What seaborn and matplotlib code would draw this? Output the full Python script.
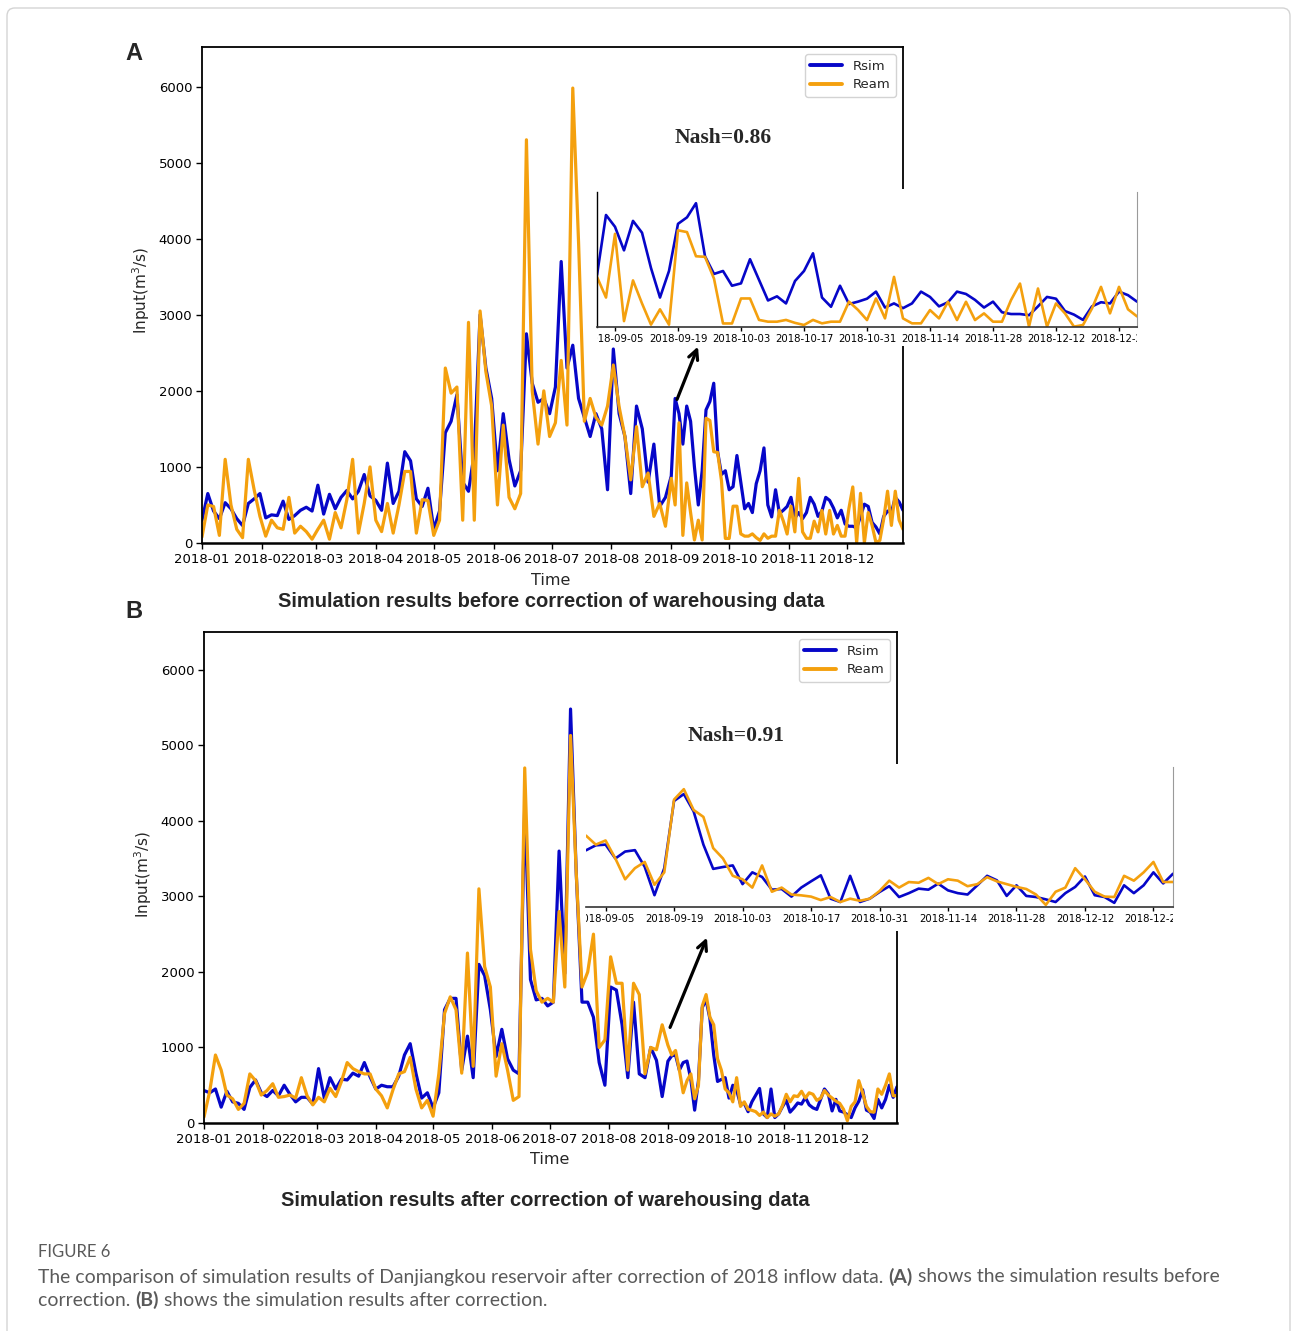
import numpy as np
import pandas as pd
import matplotlib
matplotlib.use("Agg")
import matplotlib.pyplot as plt
import matplotlib.dates as mdates
from matplotlib.patches import Rectangle, FancyBboxPatch, FancyArrowPatch
from matplotlib.lines import Line2D
from matplotlib.transforms import Bbox, TransformedBbox
import seaborn as sns

# ---------------- data ----------------
# Jan-Aug sampled every 3 days, Sep-Dec every 2 days
dates_early = pd.date_range("2018-01-01", "2018-08-29", freq="3D")
dates_late = pd.date_range("2018-09-01", "2018-12-30", freq="2D")
inset_ticks = pd.date_range("2018-09-05", periods=9, freq="14D")
series_names = ["Rsim", "Ream"]

# Panel A: before correction
a_rsim_early = [300, 650, 420, 320, 530, 450, 320, 230, 520, 580,
                650, 330, 370, 360, 550, 310, 360, 430, 470, 420,
                760, 380, 640, 450, 600, 690, 580, 680, 900, 620,
                560, 430, 1050, 520, 680, 1200, 1080, 580, 480, 720,
                180, 420,
                1450, 1600, 1950, 800, 680, 1180, 3000, 2300, 1900, 950,
                1700, 1100, 750, 950, 2750, 2100, 1850, 1900, 1700, 2050,
                3700, 2300, 2600, 1900, 1650, 1400, 1700, 1500, 700, 2550,
                1700, 1400, 650, 1800, 1500, 800, 1300, 480, 600]
a_ream_early = [80, 500, 480, 100, 1100, 500, 180, 70, 1100, 700,
                350, 90, 300, 200, 180, 600, 130, 220, 150, 50,
                180, 300, 50, 400, 200, 570, 1100, 130, 520, 1000,
                300, 150, 520, 130, 500, 940, 940, 130, 570, 560,
                100, 300,
                2300, 1970, 2050, 300, 2900, 300, 3050, 2250, 1800, 500,
                1550, 600, 450, 650, 5300, 2000, 1300, 2000, 1400, 1580,
                2400, 1550, 5980, 3950, 1600, 1900, 1650, 1550, 1800, 2340,
                1790, 1400, 830, 1530, 740, 920, 350, 520, 220]
a_rsim_late = [880, 1900, 1700, 1300, 1800, 1600, 1000, 500, 950, 1750,
               1860, 2100, 1200, 900, 950, 700, 740, 1150, 800, 450,
               520, 400, 780, 950, 1250, 500, 343, 700, 390, 430,
               480, 600, 330, 400, 320, 400, 600, 510, 350, 420,
               600, 560, 460, 330, 430, 250, 220, 220, 200, 350,
               510, 480, 270, 210, 120, 350, 420, 400, 600, 540,
               430]
a_ream_late = [850, 500, 1580, 100, 790, 400, 40, 300, 40, 1640,
               1610, 1200, 1190, 820, 60, 60, 484, 484, 120, 90,
               90, 120, 70, 34, 120, 62, 90, 90, 430, 290,
               118, 484, 146, 850, 146, 62, 62, 287, 146, 428,
               118, 428, 118, 231, 90, 90, 456, 737, 6, 653,
               6, 400, 231, 6, 34, 315, 681, 231, 681, 300,
               180]

# Panel B: after correction
b_rsim_early = [430, 400, 450, 210, 420, 280, 260, 180, 470, 570,
                400, 350, 430, 360, 500, 380, 280, 340, 340, 250,
                720, 330, 600, 450, 580, 570, 660, 620, 800, 610,
                450, 500, 480, 480, 620, 900, 1050, 660, 330, 400,
                200, 400,
                1500, 1650, 1650, 700, 1150, 600, 2100, 1950, 1500, 880,
                1240, 850, 700, 650, 4200, 1900, 1630, 1650, 1550, 1600,
                3600, 1980, 5480, 3300, 1600, 1600, 1400, 800, 500, 1800,
                1760, 1300, 600, 1600, 650, 600, 1000, 830, 350]
b_ream_early = [80, 420, 900, 700, 370, 320, 180, 260, 650, 560,
                370, 430, 520, 340, 350, 370, 330, 600, 360, 240,
                340, 280, 460, 350, 550, 800, 720, 680, 650, 650,
                450, 360, 200, 440, 650, 680, 870, 450, 200, 300,
                90, 650,
                1450, 1670, 1500, 660, 2250, 750, 3100, 2070, 1800, 620,
                1050, 700, 300, 350, 4700, 2300, 1750, 1600, 1650, 1600,
                2800, 1800, 5130, 3300, 1800, 2000, 2500, 1000, 1100, 2200,
                1850, 1850, 700, 1850, 1700, 650, 1000, 970, 1300]
b_rsim_late = [818, 890, 900, 700, 800, 820, 580, 170, 560, 1530,
               1630, 1380, 900, 550, 577, 600, 330, 500, 433, 250,
               260, 150, 280, 370, 457, 120, 72, 450, 72, 120,
               216, 300, 144, 200, 265, 250, 337, 240, 200, 180,
               313, 450, 385, 160, 313, 160, 144, 110, 72, 200,
               289, 440, 170, 144, 60, 313, 200, 313, 500, 340,
               480]
b_ream_late = [1030, 900, 960, 700, 400, 560, 650, 320, 500, 1550,
               1700, 1400, 1300, 850, 700, 450, 400, 280, 600, 220,
               280, 180, 168, 150, 100, 144, 72, 120, 90, 120,
               230, 380, 280, 360, 350, 420, 330, 400, 380, 300,
               330, 430, 370, 330, 290, 260, 180, 30, 220, 280,
               560, 400, 220, 150, 144, 450, 380, 500, 650, 361,
               361]

y_ticks = [0, 1000, 2000, 3000, 4000, 5000, 6000]
nash_labels = ["Nash=0.86", "Nash=0.91"]
panel_letters = ["A", "B"]
titles = ["Simulation results before correction of warehousing data",
          "Simulation results after correction of warehousing data"]
caption_head = "FIGURE 6"

# ---------------- style ----------------
sns.set_theme(style="ticks")
plt.rcParams["font.family"] = ["DejaVu Sans"]
plt.rcParams["axes.edgecolor"] = "black"

BLUE = "#0606C8"
ORANGE = "#F4A00E"
palette = {"Rsim": BLUE, "Ream": ORANGE}

W, H = 1292, 1331
fig = plt.figure(figsize=(W / 100, H / 100), dpi=100)
fig.patch.set_facecolor("white")


def rect(l, t, r, b):
    return [l / W, 1 - b / H, (r - l) / W, (b - t) / H]


def fpt(x, y):
    return (x / W, 1 - y / H)


# outer light border
fig.patches.append(FancyBboxPatch((7 / W, -0.02), 1283 / W, 1 - 8 / H + 0.02,
                                  boxstyle="round,pad=0,rounding_size=0.006",
                                  transform=fig.transFigure, facecolor="none",
                                  edgecolor="#d4d4d4", lw=1.0, zorder=0))

panels = [
    dict(main=(202, 47, 903, 543), ins=(597, 192, 1137, 327), ylim=6520, iylim=2290,
         rsim_e=a_rsim_early, ream_e=a_ream_early, rsim_l=a_rsim_late, ream_l=a_ream_late,
         cover=(594, 189, 1140, 346), ins_left=True,
         nash=(723, 138), arrow=((676, 402), (699, 344)),
         letter=(134, 53), ylab=(141, 290), time=(551, 580), title=(551, 601), title_w=545),
    dict(main=(204, 632, 897, 1123), ins=(586, 767, 1173, 907), ylim=6500, iylim=2020,
         rsim_e=b_rsim_early, ream_e=b_ream_early, rsim_l=b_rsim_late, ream_l=b_ream_late,
         cover=(584, 764, 1176, 931), ins_left=False,
         nash=(736, 736), arrow=((669, 1030), (708, 935)),
         letter=(134, 611), ylab=(143, 874), time=(550, 1159), title=(545, 1200), title_w=527),
]

dates_all = dates_early.append(dates_late)
renderer = fig.canvas.get_renderer()

for i, p in enumerate(panels):
    rsim = list(p["rsim_e"]) + list(p["rsim_l"])
    ream = list(p["ream_e"]) + list(p["ream_l"])
    df = pd.DataFrame({"Time": dates_all, "Rsim": rsim, "Ream": ream})
    long = df.melt("Time", var_name="series", value_name="Input")

    ax = fig.add_axes(rect(*p["main"]), zorder=0)
    sns.lineplot(data=long, x="Time", y="Input", hue="series", hue_order=series_names,
                 palette=palette, linewidth=2.3, legend=False, ax=ax)
    ax.set_xlim(dates_all[0], dates_all[-1])
    ax.set_ylim(0, p["ylim"])
    ax.set_yticks(y_ticks)
    ax.xaxis.set_major_locator(mdates.MonthLocator())
    ax.xaxis.set_major_formatter(mdates.DateFormatter("%Y-%m"))
    ax.tick_params(axis="both", labelsize=9.5, length=4, width=1, direction="out", pad=3,
                   colors="black")
    ax.set_xlabel("")
    ax.set_ylabel("")
    for s in ax.spines.values():
        s.set_visible(True)
        s.set_color("black")
        s.set_linewidth(1.3)
    ax.spines["bottom"].set_linewidth(1.8)
    ax.set_facecolor("white")

    handles = [Line2D([], [], color=BLUE, lw=2.8), Line2D([], [], color=ORANGE, lw=2.8)]
    leg = ax.legend(handles, series_names, loc="upper right", fontsize=9.5,
                    handlelength=2.4, borderaxespad=0.55, frameon=True, fancybox=True,
                    borderpad=0.4, labelspacing=0.45)
    leg.get_frame().set_edgecolor("#c8c8c8")
    leg.get_frame().set_linewidth(1.0)

    # white cover behind the inset (hides main spine under inset)
    cl, ct, cr, cb = p["cover"]
    fig.patches.append(Rectangle((cl / W, 1 - cb / H), (cr - cl) / W, (cb - ct) / H,
                                 transform=fig.transFigure, facecolor="white",
                                 edgecolor="none", zorder=1))

    # inset
    ins_rect = rect(*p["ins"])
    axi = fig.add_axes(ins_rect, zorder=2)
    dfi = pd.DataFrame({"Time": dates_late, "Rsim": p["rsim_l"], "Ream": p["ream_l"]})
    longi = dfi.melt("Time", var_name="series", value_name="Input")
    sns.lineplot(data=longi, x="Time", y="Input", hue="series", hue_order=series_names,
                 palette=palette, linewidth=1.9, legend=False, ax=axi)
    axi.set_xlim(dates_late[0], dates_late[-1])
    axi.set_ylim(0, p["iylim"])
    axi.set_yticks([])
    axi.set_xticks(inset_ticks)
    axi.xaxis.set_major_formatter(mdates.DateFormatter("%Y-%m-%d"))
    axi.tick_params(axis="x", labelsize=7.3, length=3, width=1, pad=2, colors="black")
    axi.set_xlabel("")
    axi.set_ylabel("")
    axi.set_facecolor("white")
    axi.spines["top"].set_visible(False)
    axi.spines["left"].set_visible(p["ins_left"])
    axi.spines["left"].set_color("black")
    axi.spines["left"].set_linewidth(1.0)
    axi.spines["bottom"].set_color("#333333")
    axi.spines["bottom"].set_linewidth(1.2)
    axi.spines["right"].set_visible(True)
    axi.spines["right"].set_color("#9a9a9a")
    axi.spines["right"].set_linewidth(0.8)
    clip = TransformedBbox(Bbox.from_extents(ins_rect[0], 0, ins_rect[0] + ins_rect[2], 1),
                           fig.transFigure)
    fig.canvas.draw()
    for t in axi.xaxis.get_major_ticks():
        t.label1.set_clip_box(clip)
        t.label1.set_clip_on(True)

    # Nash text
    fig.text(*fpt(*p["nash"]), nash_labels[i], ha="center", va="center",
             fontsize=15.5, fontweight="bold", family=["Liberation Serif"], zorder=5)
    # arrow
    (x0, y0), (x1, y1) = p["arrow"]
    fig.patches.append(FancyArrowPatch(fpt(x0, y0), fpt(x1, y1), transform=fig.transFigure,
                                       arrowstyle="->", mutation_scale=17, lw=2.3,
                                       color="black", zorder=6))
    # panel letter
    fig.text(*fpt(*p["letter"]), panel_letters[i], ha="center", va="center",
             fontsize=17, fontweight="bold", family=["Liberation Sans"])
    # y label
    fig.text(*fpt(*p["ylab"]), "Input(m$^3$/s)", ha="center", va="center",
             rotation=90, fontsize=11)
    # x label
    fig.text(*fpt(*p["time"]), "Time", ha="center", va="center", fontsize=11.5)
    # title (fit to width)
    tt = fig.text(*fpt(*p["title"]), titles[i], ha="center", va="center",
                  fontsize=13, fontweight="bold", family=["Liberation Sans"])
    wpx = tt.get_window_extent(renderer).width
    tt.set_fontsize(13 * p["title_w"] / wpx)

# ---------------- caption ----------------
cap_color = "#5a5a5a"
fig.text(38 / W, 1 - 1252 / H, caption_head, ha="left", va="center", fontsize=12,
         color=cap_color, family=["Lato", "DejaVu Sans"])

line1 = [("The comparison of simulation results of Danjiangkou reservoir after correction of 2018 inflow data. ", "normal"),
         ("(A)", "bold"), (" shows the simulation results before", "normal")]
line2 = [("correction. ", "normal"), ("(B)", "bold"),
         (" shows the simulation results after correction.", "normal")]


def draw_line(pieces, y, size):
    x = 38
    objs = []
    for txt, wt in pieces:
        t = fig.text(x / W, 1 - y / H, txt, ha="left", va="center", fontsize=size,
                     fontweight=wt, color=cap_color, family=["Lato", "DejaVu Sans"])
        w = t.get_window_extent(renderer).width
        objs.append(t)
        x += w
    return objs, x - 38


objs, width = draw_line(line1, 1277, 13)
for o in objs:
    o.remove()
size = 13 * 1179 / width
draw_line(line1, 1277, size)
draw_line(line2, 1300, size)

fig.savefig("out.png", dpi=100, facecolor="white")
